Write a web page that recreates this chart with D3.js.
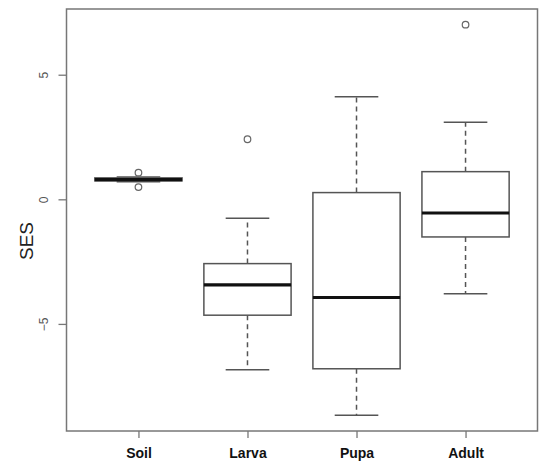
<!DOCTYPE html>
<html>
<head>
<meta charset="utf-8">
<script src="https://cdn.jsdelivr.net/npm/d3@7"></script>
<style>
  body { margin: 0; background: #fff; }
  svg text { font-family: "Liberation Sans", Arial, sans-serif; }
</style>
</head>
<body>
<div id="chart"></div>
<script>
// values
const categories = ["Soil", "Larva", "Pupa", "Adult"];
const lowWhisker = [0.70, -6.84, -8.67, -3.79];
const q1 = [0.74, -4.65, -6.80, -1.51];
const medians = [0.79, -3.43, -3.94, -0.55];
const q3 = [0.86, -2.58, 0.27, 1.11];
const highWhisker = [0.90, -0.76, 4.12, 3.09];
const outliers = [[1.07, 0.49], [2.41], [], [7.01]];
const yTicks = [-5, 0, 5];

const W = 539, H = 469;
const plot = {left: 66.5, right: 537.5, top: 9, bottom: 431};

const svg = d3.select("#chart").append("svg")
    .attr("width", W)
    .attr("height", H);

// R style: extend the data range by 4% each side
const allVals = lowWhisker.concat(highWhisker, outliers.flat());
const lo = d3.min(allVals), hi = d3.max(allVals);
const pad = (hi - lo) * 0.04;

const y = d3.scaleLinear()
    .domain([lo - pad, hi + pad])
    .range([plot.bottom, plot.top]);

const n = categories.length;
const xpad = n * 0.04;
const x = d3.scaleLinear()
    .domain([0.5 - xpad, n + 0.5 + xpad])
    .range([plot.left, plot.right]);

const boxW = x(0.8) - x(0);
const capW = boxW / 2;
const boxColor = "#555";

const data = categories.map((c, i) => ({
    name: c, pos: i + 1,
    lw: lowWhisker[i], q1: q1[i], med: medians[i], q3: q3[i], hw: highWhisker[i],
    out: outliers[i]
}));

const g = svg.selectAll("g.box").data(data).join("g").attr("class", "box");

// whiskers (dashed)
g.append("line")
    .attr("x1", d => x(d.pos)).attr("x2", d => x(d.pos))
    .attr("y1", d => y(d.q3)).attr("y2", d => y(d.hw))
    .attr("stroke", boxColor).attr("stroke-width", 1.5)
    .attr("stroke-dasharray", "5,4");
g.append("line")
    .attr("x1", d => x(d.pos)).attr("x2", d => x(d.pos))
    .attr("y1", d => y(d.q1)).attr("y2", d => y(d.lw))
    .attr("stroke", boxColor).attr("stroke-width", 1.5)
    .attr("stroke-dasharray", "5,4");

// staples
["lw", "hw"].forEach(k => {
    g.append("line")
        .attr("x1", d => x(d.pos) - capW / 2).attr("x2", d => x(d.pos) + capW / 2)
        .attr("y1", d => y(d[k])).attr("y2", d => y(d[k]))
        .attr("stroke", boxColor).attr("stroke-width", 1.5);
});

// boxes
g.append("rect")
    .attr("x", d => x(d.pos) - boxW / 2)
    .attr("width", boxW)
    .attr("y", d => y(d.q3))
    .attr("height", d => y(d.q1) - y(d.q3))
    .attr("fill", "#fff")
    .attr("stroke", boxColor).attr("stroke-width", 1.5);

// medians
g.append("line")
    .attr("x1", d => x(d.pos) - boxW / 2).attr("x2", d => x(d.pos) + boxW / 2)
    .attr("y1", d => y(d.med)).attr("y2", d => y(d.med))
    .attr("stroke", "#111").attr("stroke-width", 3.2);

// outliers
g.selectAll("circle")
    .data(d => d.out.map(v => ({pos: d.pos, v})))
    .join("circle")
    .attr("cx", d => x(d.pos)).attr("cy", d => y(d.v))
    .attr("r", 3.3)
    .attr("fill", "none")
    .attr("stroke", "#666").attr("stroke-width", 1.2);

// frame
svg.append("rect")
    .attr("x", plot.left).attr("y", plot.top)
    .attr("width", plot.right - plot.left).attr("height", plot.bottom - plot.top)
    .attr("fill", "none").attr("stroke", "#777").attr("stroke-width", 1.5);

// y axis
const yAxis = svg.append("g")
    .attr("transform", `translate(${plot.left},0)`)
    .call(d3.axisLeft(y).tickValues(yTicks).tickSize(8).tickFormat(d3.format("d")));
yAxis.select(".domain").remove();
yAxis.selectAll(".tick line").attr("stroke", "#777").attr("stroke-width", 1.3);
yAxis.selectAll(".tick text")
    .attr("x", 0).attr("dy", 0)
    .attr("transform", "translate(-23,0) rotate(-90)")
    .attr("text-anchor", "middle")
    .attr("dominant-baseline", "central")
    .attr("fill", "#555")
    .style("font-size", "12px");

// x axis
const xAxis = svg.append("g")
    .attr("transform", `translate(0,${plot.bottom})`)
    .call(d3.axisBottom(x).tickValues(d3.range(1, n + 1)).tickSize(7)
        .tickFormat(d => categories[d - 1]));
xAxis.select(".domain").remove();
xAxis.selectAll(".tick line").attr("stroke", "#777").attr("stroke-width", 1.3);
xAxis.selectAll(".tick text")
    .attr("y", 27).attr("dy", 0)
    .attr("fill", "#111")
    .style("font-size", "14px")
    .style("font-weight", "bold");

// y label
svg.append("text")
    .attr("transform", "translate(33,241) rotate(-90)")
    .attr("text-anchor", "middle")
    .attr("fill", "#222")
    .style("font-size", "19px")
    .text("SES");
</script>
</body>
</html>
